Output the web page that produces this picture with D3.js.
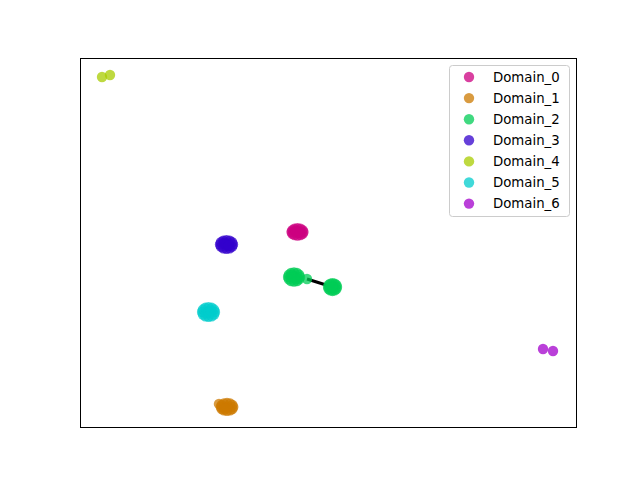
<!DOCTYPE html>
<html>
<head>
<meta charset="utf-8">
<script src="https://cdn.jsdelivr.net/npm/d3@7"></script>
<style>
  html, body { margin: 0; padding: 0; background: #fff; }
  svg { display: block; }
</style>
</head>
<body>
<svg id="chart" width="640" height="480"></svg>
<script>
// ---- data (embedding coordinates) ----
const domainNames = ["Domain_0", "Domain_1", "Domain_2", "Domain_3", "Domain_4", "Domain_5", "Domain_6"];
const domainColors = ["#cc0080", "#cc7a00", "#00cc55", "#3300cc", "#a8cc00", "#00cccc", "#a300cc"];

const domain0 = [[-7.35,2.28],[-4.95,2.28],[-6.15,3.08],[-6.15,1.48],[-5.11,2.68],[-7.19,2.68],[-5.11,1.88],[-7.19,1.88],[-5.55,2.97],[-6.75,2.97],[-5.55,1.59],[-6.75,1.59],[-6.15,2.28],[-6.55,2.58],[-5.65,2.08]];
const domain1 = [[-21.61,-35.66],[-19.11,-35.66],[-20.36,-34.81],[-20.36,-36.51],[-19.28,-35.23],[-21.44,-35.23],[-19.28,-36.09],[-21.44,-36.09],[-19.73,-34.92],[-20.99,-34.92],[-19.73,-36.4],[-20.99,-36.4],[-20.36,-35.66],[-21.98,-35.0],[-20.8,-36.0]];
const domain2 = [[-8.05,-7.48],[-5.65,-7.48],[-6.85,-6.48],[-6.85,-8.48],[-5.81,-6.98],[-7.89,-6.98],[-5.81,-7.98],[-7.89,-7.98],[-6.25,-6.61],[-7.45,-6.61],[-6.25,-8.35],[-7.45,-8.35],[-6.85,-7.48],[-7.3,-7.1],[-6.3,-7.9],
                 [-4.23,-7.91],
                 [0.01,-9.65],[1.81,-9.65],[0.91,-8.8],[0.91,-10.5],[1.69,-9.22],[0.13,-9.22],[1.69,-10.08],[0.13,-10.08],[1.36,-8.91],[0.46,-8.91],[1.36,-10.39],[0.46,-10.39],[0.91,-9.65]];
const domain3 = [[-21.76,-0.43],[-19.16,-0.43],[-20.46,0.52],[-20.46,-1.38],[-19.33,0.05],[-21.59,0.05],[-19.33,-0.91],[-21.59,-0.91],[-19.81,0.39],[-21.11,0.39],[-19.81,-1.25],[-21.11,-1.25],[-20.46,-0.43],[-20.9,-0.1],[-20.0,-0.7]];
const domain4 = [[-45.56,35.88],[-43.95,36.31]];
const domain5 = [[-25.39,-15.07],[-22.79,-15.07],[-24.09,-14.02],[-24.09,-16.12],[-22.96,-14.54],[-25.22,-14.54],[-22.96,-15.6],[-25.22,-15.6],[-23.44,-14.16],[-24.74,-14.16],[-23.44,-15.98],[-24.74,-15.98],[-24.09,-15.07],[-24.6,-15.3],[-23.6,-14.8]];
const domain6 = [[43.35,-23.09],[45.36,-23.52]];
const domainPoints = [domain0, domain1, domain2, domain3, domain4, domain5, domain6];

// transition segment drawn between the two Domain_2 groups
const linkSegment = [[-4.23,-7.91],[0.91,-9.65]];

const xExtent = [-50, 50];
const yExtent = [-40, 40];

// ---- layout ----
const svg = d3.select("#chart");
const margin = { left: 80, right: 64, top: 58, bottom: 53 };
const W = 640, H = 480;
const x = d3.scaleLinear().domain(xExtent).range([margin.left, W - margin.right]);
const y = d3.scaleLinear().domain(yExtent).range([H - margin.bottom, margin.top]);

// link line
svg.append("path")
  .attr("d", d3.line().x(d => x(d[0])).y(d => y(d[1]))(linkSegment))
  .attr("fill", "none")
  .attr("stroke", "#000")
  .attr("stroke-width", 3.2)
  .attr("stroke-linecap", "butt");

// points
domainPoints.forEach((pts, i) => {
  svg.append("g").selectAll("circle")
    .data(pts)
    .join("circle")
    .attr("cx", d => x(d[0]))
    .attr("cy", d => y(d[1]))
    .attr("r", 5.2)
    .attr("fill", domainColors[i])
    .attr("fill-opacity", 0.75);
});

// frame
svg.append("rect")
  .attr("x", margin.left + 0.5)
  .attr("y", margin.top + 0.5)
  .attr("width", W - margin.left - margin.right)
  .attr("height", H - margin.top - margin.bottom)
  .attr("fill", "none")
  .attr("stroke", "#000")
  .attr("stroke-width", 1);

// legend
const lg = svg.append("g");
lg.append("rect")
  .attr("x", 449.5).attr("y", 65.5)
  .attr("width", 120).attr("height", 151)
  .attr("rx", 3).attr("ry", 3)
  .attr("fill", "#fff").attr("fill-opacity", 0.8)
  .attr("stroke", "#cccccc").attr("stroke-width", 1);

const rows = lg.selectAll("g.row")
  .data(domainNames)
  .join("g")
  .attr("class", "row")
  .attr("transform", (d, i) => `translate(0, ${77 + i * 21.1})`);
rows.append("circle")
  .attr("cx", 469).attr("cy", 0).attr("r", 5.2)
  .attr("fill", (d, i) => domainColors[i])
  .attr("fill-opacity", 0.75);
rows.append("text")
  .attr("x", 493).attr("y", 0)
  .attr("dy", "0.35em")
  .attr("font-family", "DejaVu Sans, sans-serif")
  .attr("font-size", 13.3)
  .attr("fill", "#000")
  .text(d => d);
</script>
</body>
</html>
